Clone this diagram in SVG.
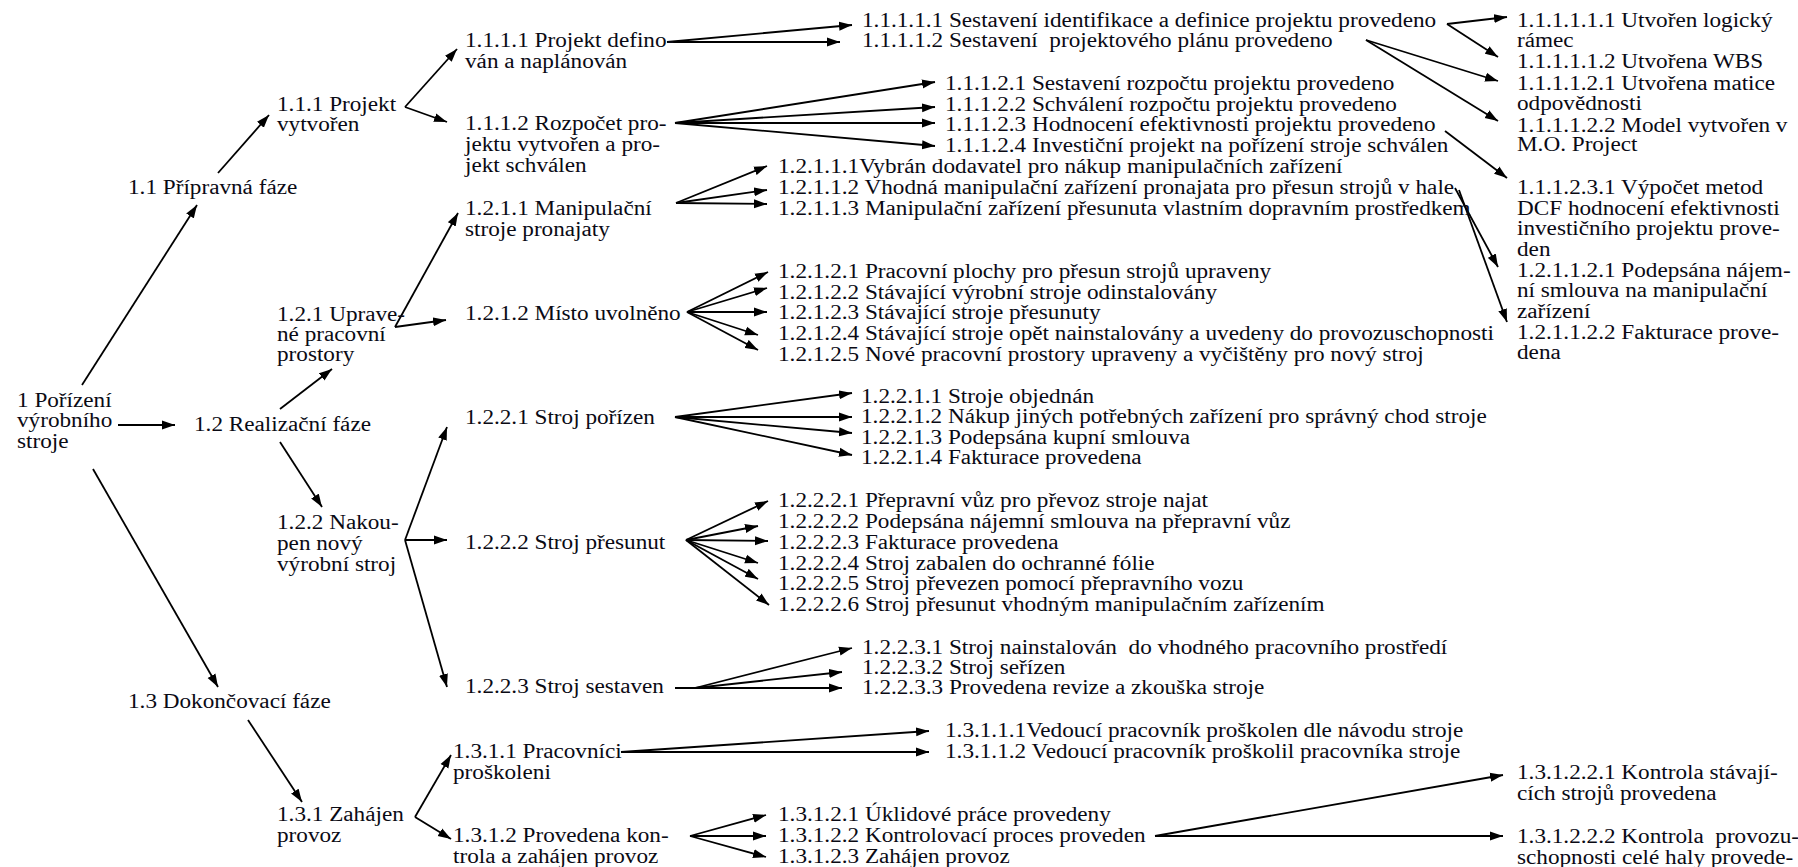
<svg xmlns="http://www.w3.org/2000/svg" width="1798" height="867" viewBox="0 0 1798 867">
<style>
text { font-family: "Liberation Serif", "Times New Roman", serif; font-size: 20px; fill: #0a0a14; }
#connectors line { stroke: #000; stroke-width: 1.8; fill: none; marker-end: url(#ah); }
#connectors line.plain { marker-end: none; }
</style>
<defs>
<marker id="ah" markerUnits="userSpaceOnUse" markerWidth="14" markerHeight="10" refX="13" refY="5" orient="auto"><path d="M0,0.5 L13,5 L0,9.5 z" fill="#000"/></marker>
</defs>
<rect width="1798" height="867" fill="#fff"/>
<g id="connectors">
<line x1="82" y1="385" x2="197" y2="205"/>
<line x1="118" y1="425" x2="175" y2="425"/>
<line x1="93" y1="469" x2="218" y2="687"/>
<line x1="218" y1="173" x2="269" y2="115"/>
<line x1="280" y1="409" x2="332" y2="369"/>
<line x1="280" y1="442" x2="322" y2="507"/>
<line x1="248" y1="720" x2="302" y2="802"/>
<line x1="405" y1="107" x2="457" y2="49"/>
<line x1="405" y1="107" x2="447" y2="122"/>
<line x1="395" y1="327" x2="458" y2="213"/>
<line x1="395" y1="327" x2="446" y2="320"/>
<line x1="405" y1="540" x2="447" y2="427"/>
<line x1="405" y1="540" x2="447" y2="540"/>
<line x1="405" y1="540" x2="447" y2="687"/>
<line x1="415" y1="817" x2="451" y2="755"/>
<line x1="415" y1="817" x2="451" y2="839"/>
<line x1="667" y1="42" x2="852" y2="25"/>
<line x1="667" y1="42" x2="840" y2="42"/>
<line x1="675" y1="123" x2="935" y2="82"/>
<line x1="675" y1="123" x2="935" y2="107"/>
<line x1="675" y1="123" x2="935" y2="123"/>
<line x1="675" y1="123" x2="935" y2="146"/>
<line x1="676" y1="203" x2="767" y2="166"/>
<line x1="676" y1="203" x2="767" y2="190"/>
<line x1="676" y1="203" x2="767" y2="204"/>
<line x1="687" y1="312" x2="768" y2="272"/>
<line x1="687" y1="312" x2="767" y2="288"/>
<line x1="687" y1="312" x2="767" y2="312"/>
<line x1="687" y1="312" x2="758" y2="335"/>
<line x1="687" y1="312" x2="758" y2="350"/>
<line x1="675" y1="417" x2="852" y2="393"/>
<line x1="675" y1="417" x2="852" y2="417"/>
<line x1="675" y1="417" x2="852" y2="433"/>
<line x1="675" y1="417" x2="852" y2="455"/>
<line x1="686" y1="540" x2="768" y2="501"/>
<line x1="686" y1="540" x2="758" y2="526"/>
<line x1="686" y1="540" x2="768" y2="541"/>
<line x1="686" y1="540" x2="758" y2="563"/>
<line x1="686" y1="540" x2="758" y2="579"/>
<line x1="686" y1="540" x2="769" y2="605"/>
<line x1="675" y1="688" x2="842" y2="688"/>
<line x1="695" y1="688" x2="852" y2="648"/>
<line x1="695" y1="688" x2="842" y2="672"/>
<line x1="621" y1="752" x2="929" y2="731"/>
<line x1="621" y1="752" x2="929" y2="752"/>
<line x1="690" y1="836" x2="766" y2="815"/>
<line x1="690" y1="836" x2="766" y2="836"/>
<line x1="690" y1="836" x2="766" y2="857"/>
<line x1="1155" y1="836" x2="1503" y2="775"/>
<line x1="1155" y1="836" x2="1503" y2="836"/>
<line x1="1447" y1="24" x2="1507" y2="17"/>
<line x1="1447" y1="24" x2="1498" y2="57"/>
<line x1="1366" y1="40" x2="1498" y2="81"/>
<line x1="1366" y1="40" x2="1498" y2="121"/>
<line x1="1445" y1="131" x2="1507" y2="178"/>
<line x1="1455" y1="188" x2="1498" y2="267"/>
<line x1="1459" y1="190" x2="1507" y2="322"/>
</g>
<g id="n1"><text transform="translate(17 407) scale(1.16 1)"><tspan x="0" y="0">1 Pořízení</tspan><tspan x="0" y="20">výrobního</tspan><tspan x="0" y="41">stroje</tspan></text></g>
<g id="n1-1"><text transform="translate(128 194) scale(1.16 1)">1.1 Přípravná fáze</text></g>
<g id="n1-2"><text transform="translate(194 431) scale(1.16 1)">1.2 Realizační fáze</text></g>
<g id="n1-3"><text transform="translate(128 708) scale(1.16 1)">1.3 Dokončovací fáze</text></g>
<g id="n1-1-1"><text transform="translate(277 111) scale(1.16 1)"><tspan x="0" y="0">1.1.1 Projekt</tspan><tspan x="0" y="20">vytvořen</tspan></text></g>
<g id="n1-2-1"><text transform="translate(277 321) scale(1.16 1)"><tspan x="0" y="0">1.2.1 Uprave-</tspan><tspan x="0" y="20">né pracovní</tspan><tspan x="0" y="40">prostory</tspan></text></g>
<g id="n1-2-2"><text transform="translate(277 529) scale(1.16 1)"><tspan x="0" y="0">1.2.2 Nakou-</tspan><tspan x="0" y="21">pen nový</tspan><tspan x="0" y="42">výrobní stroj</tspan></text></g>
<g id="n1-3-1"><text transform="translate(277 821) scale(1.16 1)"><tspan x="0" y="0">1.3.1 Zahájen</tspan><tspan x="0" y="21">provoz</tspan></text></g>
<g id="n1-1-1-1"><text transform="translate(465 47) scale(1.16 1)"><tspan x="0" y="0">1.1.1.1 Projekt defino-</tspan><tspan x="0" y="21">ván a naplánován</tspan></text></g>
<g id="n1-1-1-2"><text transform="translate(465 130) scale(1.16 1)"><tspan x="0" y="0">1.1.1.2 Rozpočet pro-</tspan><tspan x="0" y="21">jektu vytvořen a pro-</tspan><tspan x="0" y="42">jekt schválen</tspan></text></g>
<g id="n1-2-1-1"><text transform="translate(465 215) scale(1.16 1)"><tspan x="0" y="0">1.2.1.1 Manipulační</tspan><tspan x="0" y="21">stroje pronajaty</tspan></text></g>
<g id="n1-2-1-2"><text transform="translate(465 320) scale(1.16 1)">1.2.1.2 Místo uvolněno</text></g>
<g id="n1-2-2-1"><text transform="translate(465 424) scale(1.16 1)">1.2.2.1 Stroj pořízen</text></g>
<g id="n1-2-2-2"><text transform="translate(465 549) scale(1.16 1)">1.2.2.2 Stroj přesunut</text></g>
<g id="n1-2-2-3"><text transform="translate(465 693) scale(1.16 1)">1.2.2.3 Stroj sestaven</text></g>
<g id="n1-3-1-1"><text transform="translate(453 758) scale(1.16 1)"><tspan x="0" y="0">1.3.1.1 Pracovníci</tspan><tspan x="0" y="21">proškoleni</tspan></text></g>
<g id="n1-3-1-2"><text transform="translate(453 842) scale(1.16 1)"><tspan x="0" y="0">1.3.1.2 Provedena kon-</tspan><tspan x="0" y="21">trola a zahájen provoz</tspan></text></g>
<g id="n1-1-1-1-1"><text transform="translate(862 27) scale(1.16 1)">1.1.1.1.1 Sestavení identifikace a definice projektu provedeno</text></g>
<g id="n1-1-1-1-2"><text xml:space="preserve" transform="translate(862 47) scale(1.16 1)">1.1.1.1.2 Sestavení  projektového plánu provedeno</text></g>
<g id="n1-1-1-2-1"><text transform="translate(945 90) scale(1.16 1)">1.1.1.2.1 Sestavení rozpočtu projektu provedeno</text></g>
<g id="n1-1-1-2-2"><text transform="translate(945 110.5) scale(1.16 1)">1.1.1.2.2 Schválení rozpočtu projektu provedeno</text></g>
<g id="n1-1-1-2-3"><text transform="translate(945 131) scale(1.16 1)">1.1.1.2.3 Hodnocení efektivnosti projektu provedeno</text></g>
<g id="n1-1-1-2-4"><text transform="translate(945 151.5) scale(1.16 1)">1.1.1.2.4 Investiční projekt na pořízení stroje schválen</text></g>
<g id="n1-2-1-1-1"><text transform="translate(778 173) scale(1.16 1)">1.2.1.1.1Vybrán dodavatel pro nákup manipulačních zařízení</text></g>
<g id="n1-2-1-1-2"><text transform="translate(778 194) scale(1.16 1)">1.2.1.1.2 Vhodná manipulační zařízení pronajata pro přesun strojů v hale</text></g>
<g id="n1-2-1-1-3"><text transform="translate(778 215) scale(1.16 1)">1.2.1.1.3 Manipulační zařízení přesunuta vlastním dopravním prostředkem</text></g>
<g id="n1-2-1-2-1"><text transform="translate(778 278) scale(1.16 1)">1.2.1.2.1 Pracovní plochy pro přesun strojů upraveny</text></g>
<g id="n1-2-1-2-2"><text transform="translate(778 298.5) scale(1.16 1)">1.2.1.2.2 Stávající výrobní stroje odinstalovány</text></g>
<g id="n1-2-1-2-3"><text transform="translate(778 319.3) scale(1.16 1)">1.2.1.2.3 Stávající stroje přesunuty</text></g>
<g id="n1-2-1-2-4"><text transform="translate(778 340) scale(1.16 1)">1.2.1.2.4 Stávající stroje opět nainstalovány a uvedeny do provozuschopnosti</text></g>
<g id="n1-2-1-2-5"><text transform="translate(778 361) scale(1.16 1)">1.2.1.2.5 Nové pracovní prostory upraveny a vyčištěny pro nový stroj</text></g>
<g id="n1-2-2-1-1"><text transform="translate(861 402.5) scale(1.16 1)">1.2.2.1.1 Stroje objednán</text></g>
<g id="n1-2-2-1-2"><text transform="translate(861 423.3) scale(1.16 1)">1.2.2.1.2 Nákup jiných potřebných zařízení pro správný chod stroje</text></g>
<g id="n1-2-2-1-3"><text transform="translate(861 443.5) scale(1.16 1)">1.2.2.1.3 Podepsána kupní smlouva</text></g>
<g id="n1-2-2-1-4"><text transform="translate(861 464) scale(1.16 1)">1.2.2.1.4 Fakturace provedena</text></g>
<g id="n1-2-2-2-1"><text transform="translate(778 507) scale(1.16 1)">1.2.2.2.1 Přepravní vůz pro převoz stroje najat</text></g>
<g id="n1-2-2-2-2"><text transform="translate(778 528) scale(1.16 1)">1.2.2.2.2 Podepsána nájemní smlouva na přepravní vůz</text></g>
<g id="n1-2-2-2-3"><text transform="translate(778 549) scale(1.16 1)">1.2.2.2.3 Fakturace provedena</text></g>
<g id="n1-2-2-2-4"><text transform="translate(778 570) scale(1.16 1)">1.2.2.2.4 Stroj zabalen do ochranné fólie</text></g>
<g id="n1-2-2-2-5"><text transform="translate(778 590) scale(1.16 1)">1.2.2.2.5 Stroj převezen pomocí přepravního vozu</text></g>
<g id="n1-2-2-2-6"><text transform="translate(778 610.5) scale(1.16 1)">1.2.2.2.6 Stroj přesunut vhodným manipulačním zařízením</text></g>
<g id="n1-2-2-3-1"><text xml:space="preserve" transform="translate(862 653.5) scale(1.16 1)">1.2.2.3.1 Stroj nainstalován  do vhodného pracovního prostředí</text></g>
<g id="n1-2-2-3-2"><text transform="translate(862 673.5) scale(1.16 1)">1.2.2.3.2 Stroj seřízen</text></g>
<g id="n1-2-2-3-3"><text transform="translate(862 693.5) scale(1.16 1)">1.2.2.3.3 Provedena revize a zkouška stroje</text></g>
<g id="n1-3-1-1-1"><text transform="translate(945 737) scale(1.16 1)">1.3.1.1.1Vedoucí pracovník proškolen dle návodu stroje</text></g>
<g id="n1-3-1-1-2"><text transform="translate(945 758) scale(1.16 1)">1.3.1.1.2 Vedoucí pracovník proškolil pracovníka stroje</text></g>
<g id="n1-3-1-2-1"><text transform="translate(778 821) scale(1.16 1)">1.3.1.2.1 Úklidové práce provedeny</text></g>
<g id="n1-3-1-2-2"><text transform="translate(778 842) scale(1.16 1)">1.3.1.2.2 Kontrolovací proces proveden</text></g>
<g id="n1-3-1-2-3"><text transform="translate(778 862.5) scale(1.16 1)">1.3.1.2.3 Zahájen provoz</text></g>
<g id="n1-1-1-1-1-1"><text transform="translate(1517 26.7) scale(1.16 1)"><tspan x="0" y="0">1.1.1.1.1.1 Utvořen logický</tspan><tspan x="0" y="20">rámec</tspan></text></g>
<g id="n1-1-1-1-1-2"><text transform="translate(1517 68) scale(1.16 1)">1.1.1.1.1.2 Utvořena WBS</text></g>
<g id="n1-1-1-1-2-1"><text transform="translate(1517 89.5) scale(1.16 1)"><tspan x="0" y="0">1.1.1.1.2.1 Utvořena matice</tspan><tspan x="0" y="20.5">odpovědnosti</tspan></text></g>
<g id="n1-1-1-1-2-2"><text transform="translate(1517 131.5) scale(1.16 1)"><tspan x="0" y="0">1.1.1.1.2.2 Model vytvořen v</tspan><tspan x="0" y="20">M.O. Project</tspan></text></g>
<g id="n1-1-1-2-3-1"><text transform="translate(1517 194) scale(1.16 1)"><tspan x="0" y="0">1.1.1.2.3.1 Výpočet metod</tspan><tspan x="0" y="20.7">DCF hodnocení efektivnosti</tspan><tspan x="0" y="41.3">investičního projektu prove-</tspan><tspan x="0" y="62">den</tspan></text></g>
<g id="n1-2-1-1-2-1"><text transform="translate(1517 276.7) scale(1.16 1)"><tspan x="0" y="0">1.2.1.1.2.1 Podepsána nájem-</tspan><tspan x="0" y="20.6">ní smlouva na manipulační</tspan><tspan x="0" y="41.3">zařízení</tspan></text></g>
<g id="n1-2-1-1-2-2"><text transform="translate(1517 338.5) scale(1.16 1)"><tspan x="0" y="0">1.2.1.1.2.2 Fakturace prove-</tspan><tspan x="0" y="20.5">dena</tspan></text></g>
<g id="n1-3-1-2-2-1"><text transform="translate(1517 779) scale(1.16 1)"><tspan x="0" y="0">1.3.1.2.2.1 Kontrola stávají-</tspan><tspan x="0" y="21">cích strojů provedena</tspan></text></g>
<g id="n1-3-1-2-2-2"><text xml:space="preserve" transform="translate(1517 843) scale(1.16 1)"><tspan x="0" y="0">1.3.1.2.2.2 Kontrola  provozu-</tspan><tspan x="0" y="21">schopnosti celé haly provede-</tspan></text></g>
</svg>
